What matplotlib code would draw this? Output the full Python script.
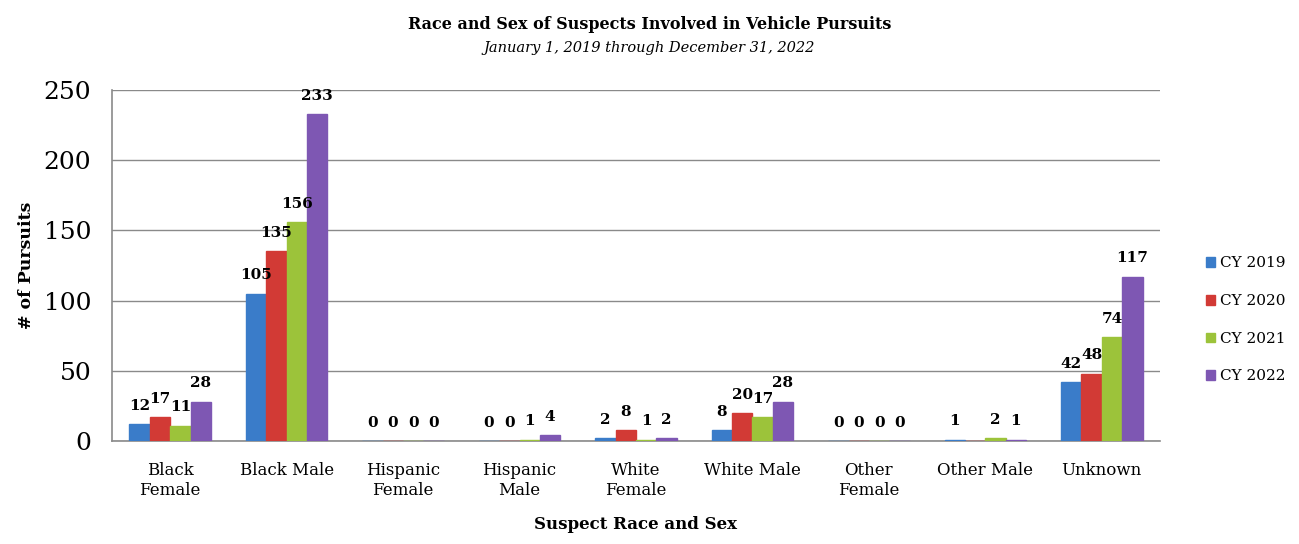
import numpy as np
import matplotlib
matplotlib.use("Agg")
import matplotlib.pyplot as plt

categories = ["Black\nFemale", "Black Male", "Hispanic\nFemale", "Hispanic\nMale", "White\nFemale",
              "White Male", "Other\nFemale", "Other Male", "Unknown"]
cy2019 = [12, 105, 0, 0, 2, 8, 0, 1, 42]
cy2020 = [17, 135, 0, 0, 8, 20, 0, np.nan, 48]
cy2021 = [11, 156, 0, 1, 1, 17, 0, 2, 74]
cy2022 = [28, 233, 0, 4, 2, 28, 0, 1, 117]
series = [("CY 2019", cy2019), ("CY 2020", cy2020), ("CY 2021", cy2021), ("CY 2022", cy2022)]
colors = ["#3a7cc9", "#d23a35", "#9cc33a", "#7e57b3"]

plt.rcParams['font.family'] = ['DejaVu Serif']

fig = plt.figure(figsize=(12.99, 5.44), dpi=100)
ax = fig.add_axes([112 / 1299, 103 / 544, 1048 / 1299, 351 / 544])

x = np.arange(len(categories))
w = 0.175
for i, (name, vals) in enumerate(series):
    pos = x + (i - 1.5) * w
    v = np.array(vals, dtype=float)
    ax.bar(pos, np.nan_to_num(v), w, color=colors[i], label=name,
           edgecolor=colors[i], zorder=3)
    for p, val in zip(pos, v):
        if np.isnan(val):
            continue
        ax.text(p, val + 8, "%d" % val, ha="center", va="bottom",
                fontsize=11, fontweight="bold", zorder=4)

ax.set_ylim(0, 250)
ax.set_xlim(-0.5, len(categories) - 0.5)
ax.set_yticks(range(0, 251, 50))
ax.tick_params(axis="y", labelsize=18, length=0, pad=15)
ax.tick_params(axis="x", labelsize=12, length=0, pad=15)
ax.set_xticks(x)
ax.set_xticklabels(categories, linespacing=1.25)
ax.grid(axis="y", color="#8a8a8a", linewidth=1, zorder=0)
for s in ["top", "right"]:
    ax.spines[s].set_visible(False)
for s in ["left", "bottom"]:
    ax.spines[s].set_color("#8a8a8a")
    ax.spines[s].set_linewidth(1.2)

ax.set_ylabel("# of Pursuits", fontsize=12.5, fontweight="bold", labelpad=6)
ax.set_xlabel("Suspect Race and Sex", fontsize=12, fontweight="bold", labelpad=12)

fig.text(0.5, 0.947, "Race and Sex of Suspects Involved in Vehicle Pursuits",
         ha="center", fontsize=11.5, fontweight="bold")
fig.text(0.5, 0.905, "January 1, 2019 through December 31, 2022",
         ha="center", fontsize=10.5, style="italic")

ax.legend(loc="center left", bbox_to_anchor=(1.0, 0.345), frameon=False,
          fontsize=11, handlelength=0.6, handleheight=0.6, handletextpad=0.3,
          labelspacing=1.55, borderaxespad=2.6)

fig.savefig("out.png", dpi=100)
